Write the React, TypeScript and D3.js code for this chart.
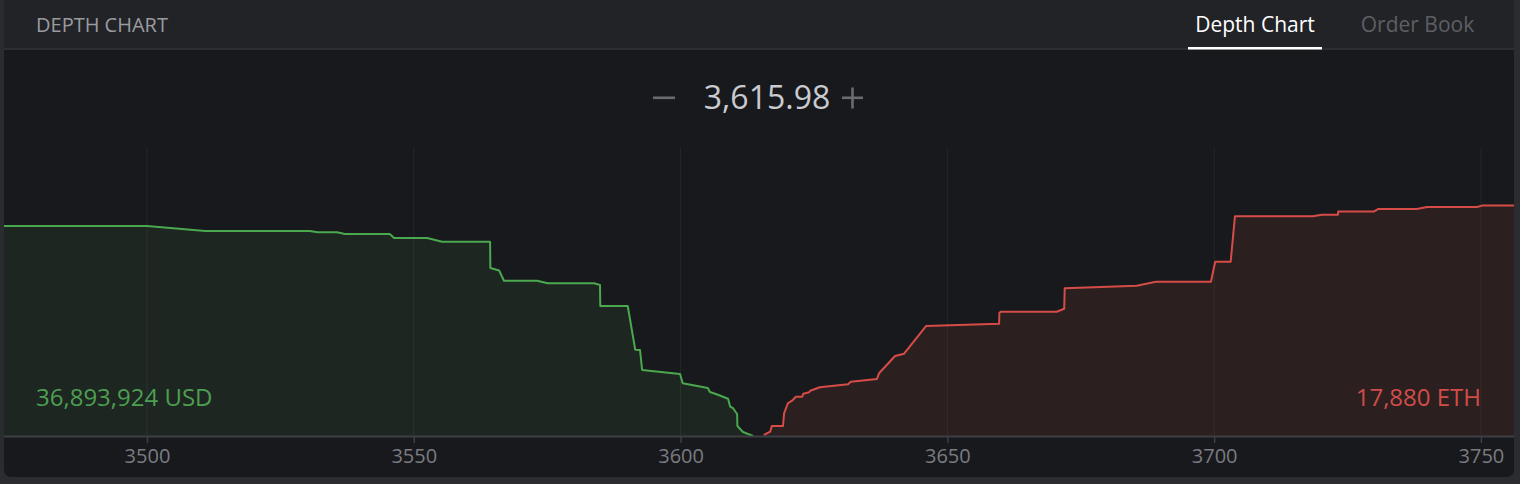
import React, {useEffect, useRef} from 'react'
import * as d3 from 'd3'

// cumulative depth (price, depth)
const bidPrices = [3473.2, 3500.0, 3510.9, 3530.5, 3532.0, 3535.6, 3537.1, 3545.5, 3546.3, 3552.5, 3555.3, 3564.3, 3564.35, 3566.0, 3566.9, 3573.1, 3575.1, 3583.8, 3584.9, 3584.95, 3590.1, 3591.5, 3592.4, 3592.8, 3599.9, 3600.4, 3605.1, 3605.5, 3607.0, 3608.9, 3609.3, 3609.8, 3610.6, 3610.65, 3611.7, 3613.6]
const bidDepths = [16296, 16296, 15908, 15908, 15807, 15807, 15675, 15675, 15365, 15365, 15078, 15078, 13037, 12843, 12051, 12051, 11850, 11850, 11718, 10088, 10088, 6697, 6674, 5122, 4811, 4090, 3725, 3414, 3205, 2894, 2274, 2173, 1707, 776, 310, 0]

const askPrices = [3615.6, 3616.8, 3617.1, 3619.2, 3619.4, 3620.1, 3620.9, 3621.6, 3622.8, 3623.0, 3624.1, 3624.3, 3626.1, 3631.4, 3631.9, 3636.8, 3637.2, 3640.2, 3641.9, 3646.0, 3659.7, 3659.75, 3660.0, 3670.5, 3671.9, 3672.0, 3685.5, 3689.1, 3699.4, 3700.2, 3703.1, 3703.9, 3718.5, 3720.2, 3723.2, 3723.25, 3729.9, 3730.7, 3738.0, 3739.9, 3749.3, 3750.2, 3756.2]
const askDepths = [78, 334, 776, 776, 1762, 2538, 2739, 3050, 3050, 3282, 3391, 3515, 3779, 4012, 4214, 4423, 4866, 6208, 6386, 8536, 8714, 9545, 9646, 9646, 9878, 11462, 11663, 11974, 11974, 13526, 13526, 17049, 17049, 17173, 17173, 17421, 17421, 17615, 17615, 17770, 17770, 17880, 17880]

const priceTicks = [3500, 3550, 3600, 3650, 3700, 3750]
const priceDomain = [3473.2, 3756.2]
const midPrice = '3,615.98'
const bidTotal = '36,893,924 USD'
const askTotal = '17,880 ETH'
const tabs = ['Depth Chart', 'Order Book']

const W = 1520
const H = 484
const FONT = '"Open Sans", "Noto Sans", sans-serif'

export default function App() {
    const svgRef = useRef<SVGSVGElement>(null)

    useEffect(() => {
        const svg = d3.select(svgRef.current)
        svg.selectAll('*').remove()

        const panel = {x: 4, y: 0, w: 1510, h: 477}
        const baseY = 436
        const topY = 148

        const x = d3.scaleLinear().domain(priceDomain).range([panel.x, panel.x + panel.w])
        const y = d3.scaleLinear().domain([0, 22350]).range([baseY, topY])

        svg.append('rect').attr('width', W).attr('height', H).attr('fill', '#2b2c30')

        const defs = svg.append('defs')
        defs.append('clipPath').attr('id', 'panel-clip')
            .append('rect')
            .attr('x', panel.x).attr('y', panel.y - 10)
            .attr('width', panel.w).attr('height', panel.h + 10)
            .attr('rx', 7)
        defs.append('clipPath').attr('id', 'plot-clip')
            .append('rect')
            .attr('x', panel.x).attr('y', 50)
            .attr('width', panel.w).attr('height', baseY - 50)

        const g = svg.append('g').attr('clip-path', 'url(#panel-clip)')

        g.append('rect')
            .attr('x', panel.x).attr('y', 0)
            .attr('width', panel.w).attr('height', panel.h)
            .attr('fill', '#18191c')

        // header
        g.append('rect')
            .attr('x', panel.x).attr('y', 0)
            .attr('width', panel.w).attr('height', 48)
            .attr('fill', '#222327')
        g.append('rect')
            .attr('x', panel.x).attr('y', 48)
            .attr('width', panel.w).attr('height', 2)
            .attr('fill', '#2d2e33')

        g.append('text')
            .attr('x', 36).attr('y', 32)
            .attr('font-family', FONT).attr('font-size', 20)
            .attr('fill', '#9a9ba0')
            .text('DEPTH CHART')

        const tabCenters = [1255, 1417.5]
        tabs.forEach((t, i) => {
            g.append('text')
                .attr('x', tabCenters[i]).attr('y', 32)
                .attr('text-anchor', 'middle')
                .attr('font-family', FONT).attr('font-size', 21)
                .attr('fill', i === 0 ? '#ffffff' : '#5e5f64')
                .text(t)
        })
        g.append('rect')
            .attr('x', 1188).attr('y', 47)
            .attr('width', 134).attr('height', 2.5)
            .attr('fill', '#ffffff')

        // mid price with -/+ controls
        g.append('text')
            .attr('x', 767).attr('y', 109)
            .attr('text-anchor', 'middle')
            .attr('font-family', FONT).attr('font-size', 32)
            .attr('fill', '#c9cbd1')
            .text(midPrice)
        g.append('rect')
            .attr('x', 653).attr('y', 96.5)
            .attr('width', 22).attr('height', 2.6)
            .attr('fill', '#6a6b70')
        g.append('rect')
            .attr('x', 842).attr('y', 96.5)
            .attr('width', 21).attr('height', 2.6)
            .attr('fill', '#6a6b70')
        g.append('rect')
            .attr('x', 851.2).attr('y', 87.5)
            .attr('width', 2.6).attr('height', 21)
            .attr('fill', '#6a6b70')

        const bids = bidPrices.map((p, i) => [p, bidDepths[i]] as [number, number])
        const asks = askPrices.map((p, i) => [p, askDepths[i]] as [number, number])

        const area = d3.area<[number, number]>()
            .x(d => x(d[0]))
            .y0(baseY)
            .y1(d => y(d[1]))
        const line = d3.line<[number, number]>()
            .x(d => x(d[0]))
            .y(d => y(d[1]))

        const plot = g.append('g').attr('clip-path', 'url(#plot-clip)')

        plot.append('path').attr('d', area(bids)!).attr('fill', '#1e2622')
        plot.append('path').attr('d', area(asks)!).attr('fill', '#2b1f20')

        // grid lines
        plot.selectAll('line.grid')
            .data(priceTicks)
            .join('line')
            .attr('class', 'grid')
            .attr('x1', d => x(d)).attr('x2', d => x(d))
            .attr('y1', topY).attr('y2', baseY)
            .attr('stroke', 'rgba(255,255,255,0.06)')
            .attr('stroke-width', 1)

        plot.append('path').attr('d', line(bids)!)
            .attr('fill', 'none').attr('stroke', '#4aa84e').attr('stroke-width', 2)
            .attr('stroke-linejoin', 'round')
        plot.append('path').attr('d', line(asks)!)
            .attr('fill', 'none').attr('stroke', '#d64c47').attr('stroke-width', 2)
            .attr('stroke-linejoin', 'round')

        g.append('text')
            .attr('x', 36).attr('y', 406)
            .attr('font-family', FONT).attr('font-size', 24)
            .attr('fill', '#4c9f50')
            .text(bidTotal)
        g.append('text')
            .attr('x', 1481).attr('y', 406)
            .attr('text-anchor', 'end')
            .attr('font-family', FONT).attr('font-size', 24)
            .attr('fill', '#d24d48')
            .text(askTotal)

        // x axis
        const axis = g.append('g')
            .attr('transform', `translate(0,${baseY})`)
            .call(d3.axisBottom(x).tickValues(priceTicks).tickFormat(d3.format('d')).tickSize(7).tickPadding(6))
        axis.select('.domain').remove()
        axis.selectAll('.tick line').attr('stroke', '#3e3f44').attr('stroke-width', 1.5)
        axis.selectAll('.tick text')
            .attr('fill', '#7b7c81')
            .attr('font-family', FONT)
            .attr('font-size', 20)
        g.append('rect')
            .attr('x', panel.x).attr('y', baseY - 0.5)
            .attr('width', panel.w).attr('height', 2)
            .attr('fill', '#3e3f44')
    }, [])

    return (
        <svg
            ref={svgRef}
            width={W}
            height={H}
            style={{position: 'fixed', left: 0, top: 0, display: 'block'}}
        />
    )
}
